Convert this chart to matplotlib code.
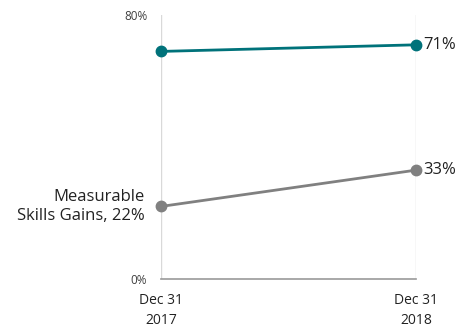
import matplotlib
matplotlib.use("Agg")
from matplotlib import pyplot as plt

# Данные
periods = ["Dec 31\n2017", "Dec 31\n2018"]
teal_values = [69, 71]
gray_values = [22, 33]
gray_name = "Measurable\nSkills Gains"

plt.rcParams['font.family'] = ['Open Sans', 'DejaVu Sans']

fig = plt.figure(figsize=(4.59, 3.29), dpi=100)
ax = fig.add_axes([0.351, 0.152, 0.555, 0.802])

x = [0, 1]
teal = "#00727A"
gray = "#808080"
ax.plot(x, teal_values, color=teal, lw=2, marker="o", ms=7.5, zorder=3, clip_on=False)
ax.plot(x, gray_values, color=gray, lw=2, marker="o", ms=7.5, zorder=3, clip_on=False)

ax.set_xlim(0, 1)
ax.set_ylim(0, 80)
ax.set_yticks([0, 80])
ax.set_yticklabels(["0%", "80%"], fontsize=8.5, color="#404040")
ax.set_xticks(x)
ax.set_xticklabels(periods, fontsize=10, color="#222222", linespacing=1.5)
ax.tick_params(length=0, pad=10)
ax.tick_params(axis="y", pad=10)

for s in ["top", "right", "left"]:
  ax.spines[s].set_visible(False)
ax.spines["bottom"].set_color("#999999")
ax.spines["bottom"].set_linewidth(1.2)
ax.grid(axis="x", color="#d9d9d9", lw=1)
ax.set_axisbelow(True)

# Подписи значений
ax.annotate(f"{teal_values[1]}%", (1, teal_values[1]), xytext=(5, 0), textcoords="offset points",
            va="center", ha="left", fontsize=12, color="#222222")
ax.annotate(f"{gray_values[1]}%", (1, gray_values[1]), xytext=(5, 0), textcoords="offset points",
            va="center", ha="left", fontsize=12, color="#222222")
ax.annotate(f"{gray_name}, {gray_values[0]}%", (0, gray_values[0]), xytext=(-12, 0), textcoords="offset points",
            va="center", ha="right", fontsize=12, color="#222222", multialignment="right", linespacing=1.25)

fig.savefig("out.png", dpi=100)
